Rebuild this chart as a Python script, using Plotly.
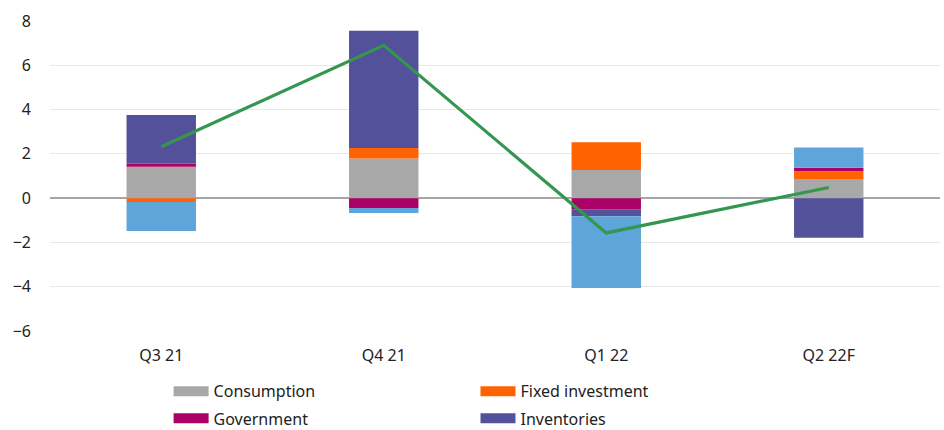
import plotly.graph_objects as go

categories = ["Q3 21", "Q4 21", "Q1 22", "Q2 22F"]
consumption = [1.42, 1.79, 1.27, 0.86]
fixed_investment = [-0.17, 0.48, 1.25, 0.36]
government = [0.15, -0.44, -0.50, 0.15]
inventories = [2.18, 5.29, -0.32, -1.79]
net_trade = [-1.31, -0.23, -3.24, 0.92]
gdp = [2.32, 6.90, -1.57, 0.48]
y_ticks = [-6, -4, -2, 0, 2, 4, 6, 8]

colors = {
    "Consumption": "#a8a8a8",
    "Fixed investment": "#ff6200",
    "Government": "#ab0066",
    "Inventories": "#525199",
    "Net trade": "#5fa5d9",
}
series = [
    ("Consumption", consumption),
    ("Fixed investment", fixed_investment),
    ("Government", government),
    ("Inventories", inventories),
    ("Net trade", net_trade),
]

fig = go.Figure()
for name, vals in series:
    fig.add_trace(go.Bar(x=categories, y=vals, name=name,
                         marker=dict(color=colors[name], line=dict(width=0)),
                         showlegend=False))
fig.add_trace(go.Scatter(x=categories, y=gdp, mode="lines", name="GDP",
                         line=dict(color="#34964f", width=3.2), showlegend=False))

# legend entries (wide swatches)
legend_pos = {
    "Consumption": ("legend", 0.1786, 0.090),
    "Government": ("legend2", 0.1786, 0.027),
    "Fixed investment": ("legend3", 0.5037, 0.090),
    "Inventories": ("legend4", 0.5037, 0.027),
}
for name, (lg, lx, ly) in legend_pos.items():
    fig.add_trace(go.Scatter(x=[None], y=[None], mode="lines", name=name,
                             line=dict(color=colors[name], width=10),
                             showlegend=True, legend=lg))

font = dict(family="Noto Sans", size=16, color="#222222")
legend_common = dict(xref="container", yref="container", xanchor="left", yanchor="middle",
                     bgcolor="rgba(0,0,0,0)", font=font, itemwidth=35)
layout_legends = {}
for name, (lg, lx, ly) in legend_pos.items():
    layout_legends[lg] = dict(legend_common, x=lx, y=ly)

fig.update_layout(
    width=944, height=430,
    margin=dict(l=50, r=4, t=21, b=99, autoexpand=False),
    paper_bgcolor="white", plot_bgcolor="white",
    barmode="relative", bargap=0.688,
    font=font,
    **layout_legends,
)
fig.update_xaxes(type="category", showgrid=False, showline=False, ticks="",
                 tickfont=font, ticklabelstandoff=13)
fig.update_yaxes(range=[-6, 8], tickvals=y_ticks, showgrid=True, gridcolor="#e8e8e8",
                 gridwidth=1, zeroline=True, zerolinecolor="#a6a6a6", zerolinewidth=2,
                 ticks="", tickfont=font, ticklabelstandoff=18, showline=False)

fig.write_html("out.html")
